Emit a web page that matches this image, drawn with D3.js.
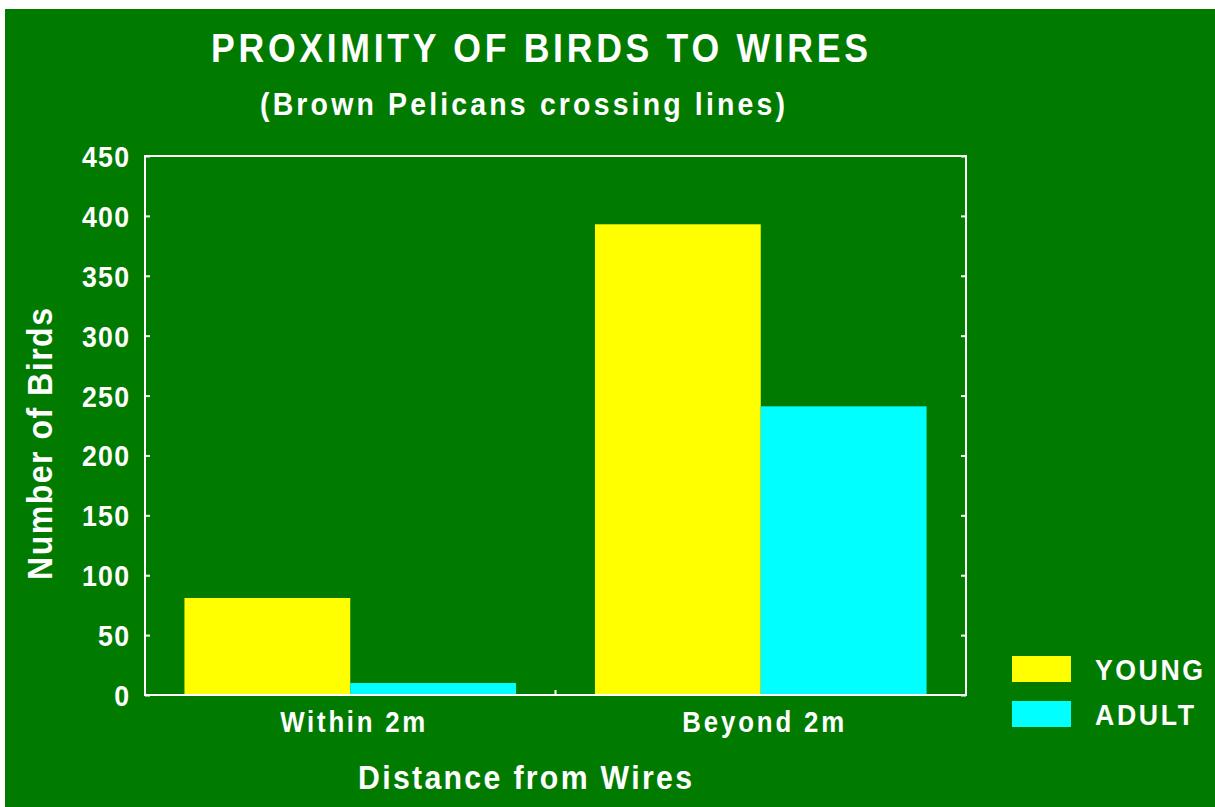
<!DOCTYPE html>
<html><head><meta charset="utf-8">
<script src="https://cdn.jsdelivr.net/npm/d3@7"></script>
<style>
html,body{margin:0;padding:0;background:#fff;}
svg{display:block;}
text{font-family:"Liberation Sans",Arial,sans-serif;font-weight:bold;fill:#fff;}
</style></head>
<body>
<script>
const categories = ["Within 2m", "Beyond 2m"];
const seriesNames = ["YOUNG", "ADULT"];
const young = [81, 393];
const adult = [10, 241];
const yTicks = [0, 50, 100, 150, 200, 250, 300, 350, 400, 450];
const colors = ["#ffff00", "#00ffff"];

(function () {
const W = 1215, H = 807;
const SX = 0.89;
const svg = d3.select("body").append("svg").attr("width", W).attr("height", H);
svg.append("rect").attr("x", 5).attr("y", 9).attr("width", W - 5).attr("height", H - 9).attr("fill", "#007b00");

function label(x, y, str, size, width, anchor, rot) {
  const gg = svg.append("g").attr("transform", `translate(${x},${y}) rotate(${rot || 0}) scale(${SX},1)`);
  gg.append("text").attr("x", 0).attr("y", 0).attr("font-size", size)
    .attr("text-anchor", anchor || "start")
    .attr("textLength", width / SX).attr("lengthAdjust", "spacing")
    .text(str);
  return gg;
}

const mL = 145, mR = 966, mT = 156, mB = 695;
const y = d3.scaleLinear().domain([0, 450]).range([mB, mT]);
const x0 = d3.scaleBand().domain(categories).range([mL, mR]).padding(0);
const x1 = d3.scaleBand().domain(seriesNames).range([0, x0.bandwidth()]).paddingInner(0).paddingOuter(0.238);

const values = [young, adult];
const g = svg.append("g");
categories.forEach((c, ci) => {
  seriesNames.forEach((s, si) => {
    const v = values[si][ci];
    g.append("rect")
      .attr("x", x0(c) + x1(s))
      .attr("y", y(v))
      .attr("width", x1.bandwidth())
      .attr("height", y(0) - y(v))
      .attr("fill", colors[si]);
  });
});

// frame
svg.append("rect").attr("x", mL).attr("y", mT).attr("width", mR - mL).attr("height", mB - mT)
  .attr("fill", "none").attr("stroke", "#fff").attr("stroke-width", 2);

// axis ticks (inward)
const yAxisL = d3.axisRight(y).tickValues(yTicks).tickSize(5).tickFormat("");
svg.append("g").attr("transform", `translate(${mL},0)`).call(yAxisL)
  .call(a => { a.select(".domain").remove(); a.selectAll("line").attr("stroke", "#fff").attr("stroke-width", 2); });
const yAxisR = d3.axisLeft(y).tickValues(yTicks).tickSize(5).tickFormat("");
svg.append("g").attr("transform", `translate(${mR},0)`).call(yAxisR)
  .call(a => { a.select(".domain").remove(); a.selectAll("line").attr("stroke", "#fff").attr("stroke-width", 2); });

// tick labels
yTicks.forEach(t => {
  label(129, y(t) + 11, String(t), 30, String(t).length * 16 - 1, "end");
});

// middle x tick
svg.append("line").attr("x1", x0(categories[1])).attr("x2", x0(categories[1]))
  .attr("y1", mB).attr("y2", mB - 5).attr("stroke", "#fff").attr("stroke-width", 2);

// category labels
const catWidths = [145, 162];
categories.forEach((c, i) => {
  label(x0(c) + x1("ADULT") + 2.5, 732, c, 29, catWidths[i], "middle");
});

// titles
label(539.5, 62, "PROXIMITY OF BIRDS TO WIRES", 40, 657, "middle");
label(522.5, 115, "(Brown Pelicans crossing lines)", 32, 525, "middle");
label(525, 789, "Distance from Wires", 34, 334, "middle");
label(52, 444, "Number of Birds", 36, 272, "middle", -90);

// legend
const legY = [656, 701];
const legW = [108, 99];
seriesNames.forEach((s, i) => {
  svg.append("rect").attr("x", 1012).attr("y", legY[i]).attr("width", 59).attr("height", 26).attr("fill", colors[i]);
  label(1095, legY[i] + 24, s, 30, legW[i], "start");
});
})();
</script>
</body></html>
